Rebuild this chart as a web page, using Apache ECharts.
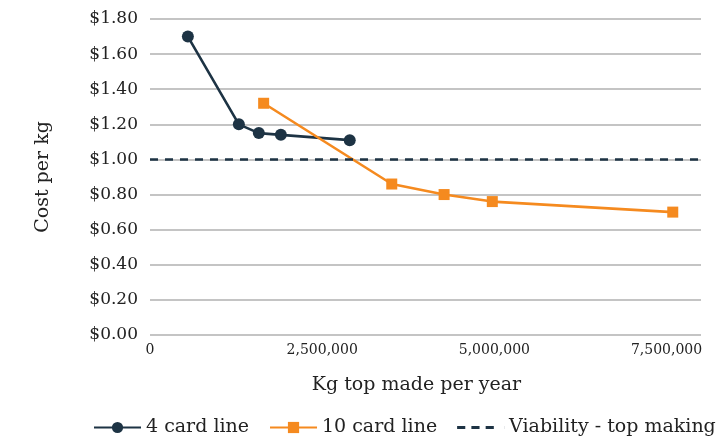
<!DOCTYPE html>
<html><head><meta charset="utf-8">
<script src="https://cdn.jsdelivr.net/npm/echarts@6/dist/echarts.min.js"></script>
<style>html,body{margin:0;padding:0;background:#fff}#c{width:725px;height:442px}</style>
</head><body><div id="c"></div>
<script>
const card4X = [550000, 1290000, 1580000, 1900000, 2900000];
const card4Y = [1.70, 1.20, 1.15, 1.14, 1.11];
const card10X = [1650000, 3510000, 4270000, 4970000, 7590000];
const card10Y = [1.32, 0.86, 0.80, 0.76, 0.70];
const viabX = [0, 8000000];
const viabY = [1.00, 1.00];
const seriesNames = ['4 card line', '10 card line', 'Viability - top making'];
const xTitle = 'Kg top made per year';
const yTitle = 'Cost per kg';

const zip = (xs, ys) => xs.map((x, i) => [x, ys[i]]);
const font = '"DejaVu Serif", "Liberation Serif", serif';
const navy = '#1d3344', orange = '#f58a1f', txt = '#222';
const chart = echarts.init(document.getElementById('c'));
chart.setOption({
  animation: false,
  textStyle: { fontFamily: font },
  grid: { left: 150, right: 24, top: 19, bottom: 107, containLabel: false },
  xAxis: {
    type: 'value', min: 0, max: 8000000, interval: 2500000,
    name: xTitle, nameLocation: 'middle', nameGap: 41,
    nameTextStyle: { fontFamily: font, fontSize: 19, color: txt, padding: [0, 18, 0, 0] },
    axisLine: { show: false }, axisTick: { show: false }, splitLine: { show: false },
    axisLabel: { showMaxLabel: false, fontFamily: font, fontSize: 14, color: txt, margin: 8,
      formatter: v => v.toLocaleString('en-US') }
  },
  yAxis: {
    type: 'value', min: 0, max: 1.8, interval: 0.2,
    name: yTitle, nameLocation: 'middle', nameGap: 97, nameRotate: 90,
    nameTextStyle: { fontFamily: font, fontSize: 19, color: txt },
    axisLine: { show: false }, axisTick: { show: false },
    splitLine: { lineStyle: { color: '#b0b0b0', width: 1.6 } },
    axisLabel: { fontFamily: font, fontSize: 17, color: txt, margin: 12,
      formatter: v => '$' + v.toFixed(2) }
  },
  legend: {
    top: 418, left: 93, width: 632, padding: 0, itemWidth: 47, itemHeight: 14, itemGap: 20,
    textStyle: { fontFamily: font, fontSize: 19, color: txt },
    data: [
      { name: seriesNames[0] },
      { name: seriesNames[1] },
      { name: seriesNames[2], icon: 'path://M0,0h8v3h-8z M14,0h8v3h-8z M28,0h8v3h-8z M46,0h0.1v3h-0.1z' }
    ]
  },
  series: [
    { name: seriesNames[0], type: 'line', data: zip(card4X, card4Y),
      symbol: 'circle', symbolSize: 12,
      lineStyle: { color: navy, width: 2.6 }, itemStyle: { color: navy } },
    { name: seriesNames[1], type: 'line', data: zip(card10X, card10Y),
      symbol: 'rect', symbolSize: 11,
      lineStyle: { color: orange, width: 2.6 }, itemStyle: { color: orange } },
    { name: seriesNames[2], type: 'line', data: zip(viabX, viabY),
      symbol: 'none',
      lineStyle: { color: navy, width: 2.6, type: [8, 7] }, itemStyle: { color: navy } }
  ]
});
</script></body></html>
